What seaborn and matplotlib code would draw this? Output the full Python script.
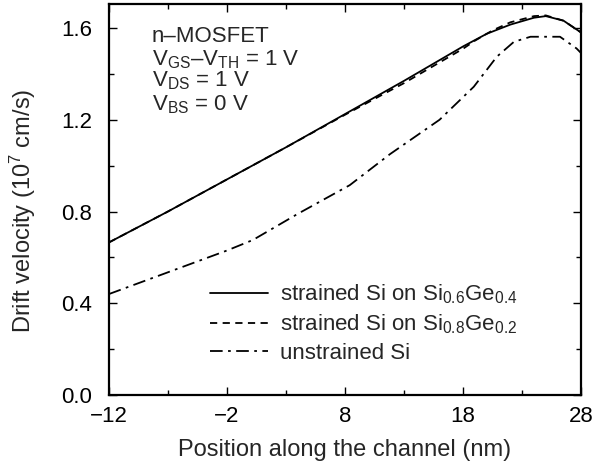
import numpy as np
import pandas as pd
import matplotlib
matplotlib.use("Agg")
import matplotlib.pyplot as plt
import seaborn as sns
from matplotlib.ticker import MultipleLocator, FixedLocator

# Data
x_sige04 = [-12, -7, -2, 3, 8, 13, 18, 20, 22, 24, 25, 26.5, 28]
y_sige04 = [0.665, 0.80, 0.94, 1.08, 1.225, 1.37, 1.52, 1.575, 1.615, 1.645, 1.652, 1.632, 1.58]

x_sige02 = [-12, -7, -2, 3, 8, 11, 13, 15, 18, 19, 20.5, 22, 24, 25, 26.5, 28]
y_sige02 = [0.665, 0.80, 0.94, 1.08, 1.222, 1.305, 1.36, 1.42, 1.51, 1.545, 1.59, 1.625, 1.652, 1.655, 1.632, 1.58]

x_unstr = [-12, -7, -2, 0.2, 4, 8.4, 11.8, 16, 18.9, 20.85, 22.3, 23.7, 26.2, 27.6, 28]
y_unstr = [0.44, 0.535, 0.63, 0.676, 0.79, 0.915, 1.05, 1.20, 1.344, 1.475, 1.54, 1.562, 1.562, 1.511, 1.49]

labels = [r"strained Si on Si$_{0.6}$Ge$_{0.4}$",
          r"strained Si on Si$_{0.8}$Ge$_{0.2}$",
          "unstrained Si"]
x_ticks = [-12, -2, 8, 18, 28]
y_ticks = [0.0, 0.4, 0.8, 1.2, 1.6]

sns.set_style("ticks")
plt.rcParams['font.family'] = ['Liberation Sans', 'DejaVu Sans']
plt.rcParams['mathtext.fontset'] = 'custom'
plt.rcParams['mathtext.rm'] = 'Liberation Sans'
plt.rcParams['mathtext.it'] = 'Liberation Sans'
plt.rcParams['mathtext.bf'] = 'Liberation Sans'

fig = plt.figure(figsize=(5.98, 4.65), dpi=100)
ax = fig.add_axes([0.182, 0.1505, 0.790, 0.841])

lw = 1.3
sns.lineplot(x=x_sige04, y=y_sige04, ax=ax, color="black", lw=lw,
             label=labels[0], linestyle="-")
sns.lineplot(x=x_sige02, y=y_sige02, ax=ax, color="black", lw=lw,
             label=labels[1], linestyle=(0, (4, 3)))
sns.lineplot(x=x_unstr, y=y_unstr, ax=ax, color="black", lw=lw,
             label=labels[2], linestyle=(0, (7, 3, 1.5, 3)))

ax.set_xlim(-12, 28)
ax.set_ylim(0, 1.705)
ax.xaxis.set_major_locator(FixedLocator(x_ticks))
ax.xaxis.set_minor_locator(MultipleLocator(5, offset=-2))
ax.yaxis.set_major_locator(FixedLocator(y_ticks))
ax.yaxis.set_minor_locator(MultipleLocator(0.2))
ax.set_xticklabels([f"{v:g}".replace("-", "\u2212") for v in x_ticks])
ax.set_yticklabels([f"{v:.1f}" for v in y_ticks])
ax.tick_params(which="both", direction="in", top=True, right=True,
               labelsize=16, width=1.0, color="black", labelcolor="black")
ax.tick_params(which="major", length=6)
ax.tick_params(which="minor", length=3.5)
ax.tick_params(axis="x", which="major", pad=8)
ax.tick_params(axis="y", which="major", pad=12)
for s in ax.spines.values():
    s.set_linewidth(1.6)
    s.set_color("black")

ax.set_xlabel("Position along the channel (nm)", fontsize=17)
ax.set_ylabel(r"Drift velocity (10$^7$ cm/s)", fontsize=17)
ax.xaxis.set_label_coords(0.5, -0.112)
ax.yaxis.set_label_coords(-0.150, 0.47)

txt = ["n\u2013MOSFET",
       "V$_{\\rm GS}$\u2013V$_{\\rm TH}$ = 1 V",
       r"V$_{\rm DS}$ = 1 V",
       r"V$_{\rm BS}$ = 0 V"]
txt_y = [0.9036, 0.844, 0.788, 0.729]
for t, yy in zip(txt, txt_y):
    ax.text(0.091, yy, t, transform=ax.transAxes,
            fontsize=16, va="baseline", ha="left")

leg = ax.legend(loc="lower left", bbox_to_anchor=(0.196, 0.057), frameon=False,
                fontsize=16, handlelength=2.6, handletextpad=0.55,
                labelspacing=0.3, borderaxespad=0)

fig.savefig("out.png", dpi=100)
